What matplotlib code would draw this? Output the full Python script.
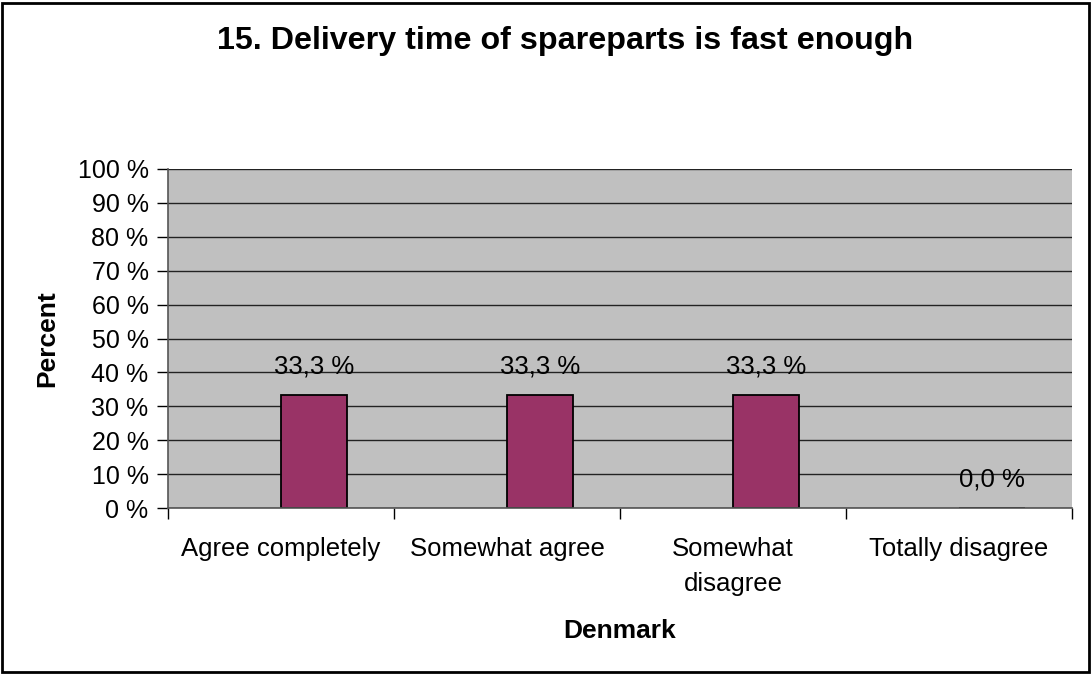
import matplotlib
matplotlib.use("Agg")
import matplotlib.pyplot as plt
from matplotlib.patches import Rectangle
from matplotlib.ticker import FixedLocator, NullFormatter

plt.rcParams['font.family'] = ['Liberation Sans', 'DejaVu Sans']

categories = ["Agree completely", "Somewhat agree", "Somewhat\ndisagree", "Totally disagree"]
values = [33.3, 33.3, 33.3, 0.0]
yticks = list(range(0, 101, 10))
title = "15. Delivery time of spareparts is fast enough"

W, H = 1092, 675
fig = plt.figure(figsize=(W / 100, H / 100), dpi=100)
ax = fig.add_axes([168 / W, 1 - 508 / H, (1072 - 168) / W, (508 - 169) / H])

ax.set_facecolor("#C0C0C0")
x = list(range(len(categories)))
offset = 0.147
bw = 0.29
ax.bar([i + offset for i in x], values, width=bw, color="#993366",
       edgecolor="black", linewidth=1.3, zorder=3)

for i, v in zip(x, values):
    ax.annotate(f"{v:.1f} %".replace(".", ","), (i + offset, v),
                xytext=(0, 29), textcoords="offset pixels",
                ha="center", va="center", fontsize=18.5, zorder=4)

ax.set_xlim(-0.5, len(categories) - 0.5)
ax.set_ylim(0, 100)
ax.set_yticks(yticks)
ax.set_yticklabels([f"{t} %" for t in yticks], fontsize=18)
ax.yaxis.grid(True, color="#222222", linewidth=1.0, zorder=1)
ax.set_axisbelow(True)

ax.set_xticks(x)
ax.set_xticklabels(categories, fontsize=18.5, linespacing=1.55)
ax.tick_params(axis="x", length=0, pad=21)
ax.xaxis.set_minor_locator(FixedLocator([i + 0.5 for i in x[:-1]] + [-0.5, len(categories) - 0.5]))
ax.xaxis.set_minor_formatter(NullFormatter())
ax.tick_params(axis="x", which="minor", length=8, width=1, color="black")
ax.tick_params(axis="y", length=8, width=1, color="black", pad=6)

for side in ["top", "right"]:
    ax.spines[side].set_visible(False)
for side in ["left", "bottom"]:
    ax.spines[side].set_color("#555555")
    ax.spines[side].set_linewidth(1.2)
    ax.spines[side].set_zorder(5)

ax.set_ylabel("Percent", fontsize=19, fontweight="bold", labelpad=13)
ax.set_xlabel("Denmark", fontsize=19, fontweight="bold", labelpad=17)

fig.text(565 / W, 1 - 41 / H, title, ha="center", va="center",
         fontsize=23.2, fontweight="bold")

fig.patches.append(Rectangle((2 / W, 3 / H), (W - 5) / W, (H - 6) / H,
                             transform=fig.transFigure, fill=False,
                             edgecolor="black", linewidth=2))

fig.savefig("out.png", dpi=100)
